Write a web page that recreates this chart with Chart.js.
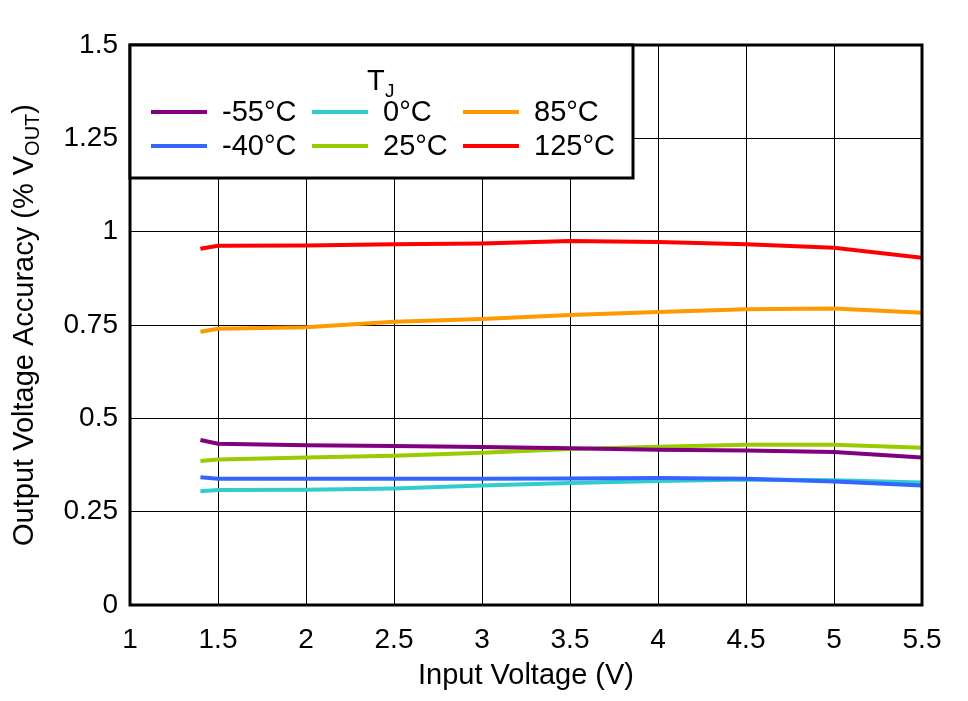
<!DOCTYPE html>
<html><head><meta charset="utf-8">
<script src="https://cdn.jsdelivr.net/npm/chart.js@4"></script>
<style>html,body{margin:0;padding:0;background:#fff}#wrap{width:968px;height:701px}</style>
</head><body><div id="wrap"><canvas id="c" width="968" height="701"></canvas></div>
<script>
const inputVoltage = [1.4, 1.5, 2, 2.5, 3, 3.5, 4, 4.5, 5, 5.5];
const seriesLabels = ['-55°C', '-40°C', '0°C', '25°C', '85°C', '125°C'];
const seriesColors = ['#800080', '#3366FF', '#33CCCC', '#99CC00', '#FF9900', '#FF0000'];
const accM55 = [0.442, 0.432, 0.428, 0.426, 0.423, 0.420, 0.416, 0.414, 0.410, 0.395];
const accM40 = [0.342, 0.338, 0.338, 0.338, 0.338, 0.339, 0.340, 0.338, 0.331, 0.320];
const acc0   = [0.305, 0.308, 0.309, 0.312, 0.320, 0.327, 0.332, 0.336, 0.334, 0.328];
const acc25  = [0.386, 0.390, 0.395, 0.400, 0.408, 0.418, 0.424, 0.429, 0.429, 0.421];
const acc85  = [0.732, 0.740, 0.744, 0.759, 0.766, 0.777, 0.785, 0.792, 0.794, 0.783];
const acc125 = [0.954, 0.962, 0.963, 0.966, 0.968, 0.975, 0.972, 0.966, 0.957, 0.930];
const xTickLabels = ['1', '1.5', '2', '2.5', '3', '3.5', '4', '4.5', '5', '5.5'];
const yTickLabels = ['0', '0.25', '0.5', '0.75', '1', '1.25', '1.5'];
const seriesValues = [accM55, accM40, acc0, acc25, acc85, acc125];

const FONT = '"Liberation Sans", Arial, sans-serif';

const datasets = seriesValues.map((vals, i) => ({
  label: seriesLabels[i],
  data: vals.map((v, j) => ({x: inputVoltage[j], y: v})),
  borderColor: seriesColors[i],
  backgroundColor: seriesColors[i],
  borderWidth: 4,
  pointRadius: 0,
  tension: 0,
  fill: false
}));

const overlay = {
  id: 'overlay',
  afterDatasetsDraw(chart) {
    const ctx = chart.ctx, a = chart.chartArea;
    ctx.save();
    ctx.strokeStyle = '#000'; ctx.lineWidth = 3;
    ctx.strokeRect(a.left, a.top, a.right - a.left, a.bottom - a.top);
    const lx = a.left, ly = a.top, lw = 633 - a.left, lh = 178 - a.top;
    ctx.fillStyle = '#fff';
    ctx.fillRect(lx, ly, lw, lh);
    ctx.strokeRect(lx, ly, lw, lh);
    ctx.fillStyle = '#000';
    ctx.textBaseline = 'alphabetic';
    ctx.textAlign = 'left';
    ctx.font = '29px ' + FONT;
    ctx.fillText('T', 367, 90);
    ctx.font = '19px ' + FONT;
    ctx.fillText('J', 385, 97);
    const colX = [151, 312, 463];
    const textX = [222, 383, 534];
    const rowY = [112, 146];
    ctx.font = '29px ' + FONT;
    ctx.textBaseline = 'middle';
    chart.data.datasets.forEach((ds, i) => {
      const c = Math.floor(i / 2), r = i % 2;
      ctx.strokeStyle = ds.borderColor; ctx.lineWidth = 4;
      ctx.beginPath();
      ctx.moveTo(colX[c], rowY[r]); ctx.lineTo(colX[c] + 56, rowY[r]);
      ctx.stroke();
      ctx.fillStyle = '#000';
      ctx.fillText(ds.label, textX[c], rowY[r] + 1);
    });
    ctx.textAlign = 'center';
    ctx.textBaseline = 'middle';
    ctx.font = '29px ' + FONT;
    ctx.fillText('Input Voltage (V)', (a.left + a.right) / 2, 676);
    ctx.translate(23, (a.top + a.bottom) / 2);
    ctx.rotate(-Math.PI / 2);
    const p1 = 'Output Voltage Accuracy (% V', p2 = 'OUT', p3 = ')';
    ctx.font = '29px ' + FONT; const w1 = ctx.measureText(p1).width, w3 = ctx.measureText(p3).width;
    ctx.font = '20px ' + FONT; const w2 = ctx.measureText(p2).width;
    const tot = w1 + w2 + w3;
    let x = -tot / 2;
    ctx.textAlign = 'left';
    ctx.textBaseline = 'alphabetic';
    ctx.font = '29px ' + FONT; ctx.fillText(p1, x, 10); x += w1;
    ctx.font = '20px ' + FONT; ctx.fillText(p2, x, 16); x += w2;
    ctx.font = '29px ' + FONT; ctx.fillText(p3, x, 10);
    ctx.restore();
  }
};

new Chart(document.getElementById('c'), {
  type: 'line',
  data: { datasets },
  options: {
    responsive: false,
    animation: false,
    layout: { padding: { left: 0, right: 46, top: 45, bottom: 0 } },
    plugins: { legend: { display: false }, tooltip: { enabled: false } },
    scales: {
      x: {
        type: 'linear', min: 1, max: 5.5,
        afterFit(s) { s.height = 96; },
        ticks: {
          stepSize: 0.5, color: '#000', padding: 18,
          font: { family: FONT, size: 28 },
          maxRotation: 0, autoSkip: false,
          callback: (v) => xTickLabels[Math.round((v - 1) / 0.5)]
        },
        grid: { color: '#000', lineWidth: 1, drawTicks: false },
        border: { display: false }
      },
      y: {
        min: 0, max: 1.5,
        afterFit(s) { s.width = 130; },
        ticks: {
          stepSize: 0.25, color: '#000', padding: 12,
          font: { family: FONT, size: 28 },
          autoSkip: false,
          callback: (v) => yTickLabels[Math.round(v / 0.25)]
        },
        grid: { color: '#000', lineWidth: 1, drawTicks: false },
        border: { display: false }
      }
    }
  },
  plugins: [overlay]
});
</script>
</body></html>
